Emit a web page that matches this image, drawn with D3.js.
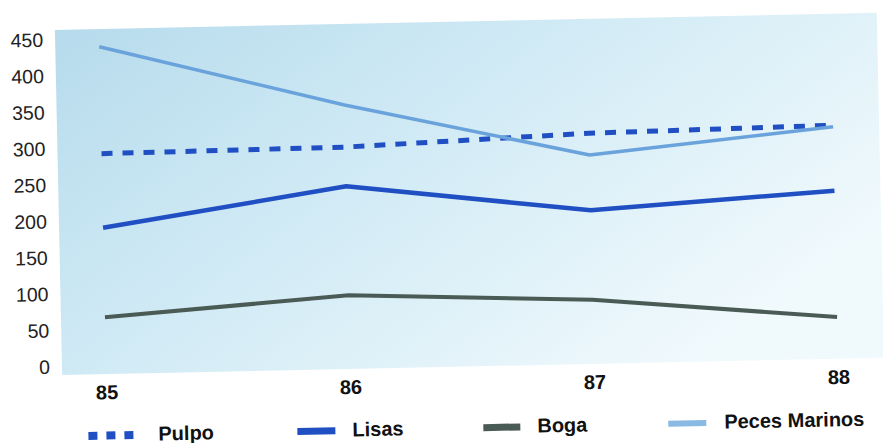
<!DOCTYPE html>
<html>
<head>
<meta charset="utf-8">
<script src="https://cdn.jsdelivr.net/npm/d3@7"></script>
<style>
  html, body { margin: 0; padding: 0; background: #ffffff; }
  svg { display: block; }
</style>
</head>
<body>
<svg id="chart" width="883" height="443"></svg>
<script>
// ---- data ----
const years = ["85", "86", "87", "88"];
const pulpo = [292, 294, 306, 310];
const lisas = [190, 240, 200, 220];
const boga = [67, 90, 77, 46];
const pecesMarinos = [439, 352, 276, 308];
const yTicks = [0, 50, 100, 150, 200, 250, 300, 350, 400, 450];
const seriesNames = ["Pulpo", "Lisas", "Boga", "Peces Marinos"];

const series = [
  { name: seriesNames[0], values: pulpo, color: "#1f4fc2", width: 5, dash: "11,10" },
  { name: seriesNames[1], values: lisas, color: "#1f4fc2", width: 4.5, dash: null },
  { name: seriesNames[2], values: boga, color: "#4a5b56", width: 4, dash: null },
  { name: seriesNames[3], values: pecesMarinos, color: "#6aa3dc", width: 3.5, dash: null }
];

const svg = d3.select("#chart");
const defs = svg.append("defs");
const grad = defs.append("linearGradient").attr("id", "bg")
  .attr("x1", "0%").attr("y1", "0%").attr("x2", "100%").attr("y2", "60%");
grad.append("stop").attr("offset", "0%").attr("stop-color", "#b6dbec");
grad.append("stop").attr("offset", "45%").attr("stop-color", "#d0eaf5");
grad.append("stop").attr("offset", "100%").attr("stop-color", "#f0f9fc");

const root = svg.append("g").attr("transform", "rotate(-1.2, 441, 221)");

const x = d3.scalePoint().domain(years).range([103, 835]);
const y = d3.scaleLinear().domain([0, 450]).range([358.8, 31.7]);

// background panel
root.append("rect")
  .attr("x", 59).attr("y", 22).attr("width", 822).attr("height", 345)
  .attr("fill", "url(#bg)");

// y axis
const yAxis = root.append("g")
  .attr("transform", "translate(50,0)")
  .call(d3.axisLeft(y).tickValues(yTicks).tickSize(0).tickPadding(3));
yAxis.select(".domain").remove();
yAxis.selectAll("text")
  .attr("font-family", "Liberation Sans, Arial, sans-serif")
  .attr("font-size", 19.5)
  .attr("fill", "#222");

// x axis
const xAxis = root.append("g")
  .attr("transform", "translate(0,378)")
  .call(d3.axisBottom(x).tickSize(0).tickPadding(0));
xAxis.select(".domain").remove();
xAxis.selectAll("text")
  .attr("font-family", "Liberation Sans, Arial, sans-serif")
  .attr("font-size", 20)
  .attr("font-weight", "bold")
  .attr("fill", "#111");

// lines
const line = d3.line()
  .x((d, i) => x(years[i]))
  .y(d => y(d));

root.selectAll("path.series")
  .data(series)
  .enter().append("path")
  .attr("class", "series")
  .attr("d", d => line(d.values))
  .attr("fill", "none")
  .attr("stroke", d => d.color)
  .attr("stroke-width", d => d.width)
  .attr("stroke-dasharray", d => d.dash)
  .attr("stroke-linejoin", "round");

// legend
const legendItems = [
  { name: seriesNames[0], x1: 84, x2: 131, color: "#1f4fc2", width: 8, dash: "9,9", tx: 154 },
  { name: seriesNames[1], x1: 293, x2: 331, color: "#1f4fc2", width: 7, dash: null, tx: 348 },
  { name: seriesNames[2], x1: 479, x2: 516, color: "#4a5b56", width: 7, dash: null, tx: 533 },
  { name: seriesNames[3], x1: 664, x2: 702, color: "#8ab9e3", width: 6, dash: null, tx: 720 }
];
const lg = root.append("g");
legendItems.forEach(it => {
  lg.append("line")
    .attr("x1", it.x1).attr("x2", it.x2)
    .attr("y1", 428.5).attr("y2", 428.5)
    .attr("stroke", it.color)
    .attr("stroke-width", it.width)
    .attr("stroke-dasharray", it.dash);
  lg.append("text")
    .attr("x", it.tx).attr("y", 434.5)
    .attr("font-family", "Liberation Sans, Arial, sans-serif")
    .attr("font-size", 20)
    .attr("font-weight", "bold")
    .attr("fill", "#111")
    .text(it.name);
});
</script>
</body>
</html>
